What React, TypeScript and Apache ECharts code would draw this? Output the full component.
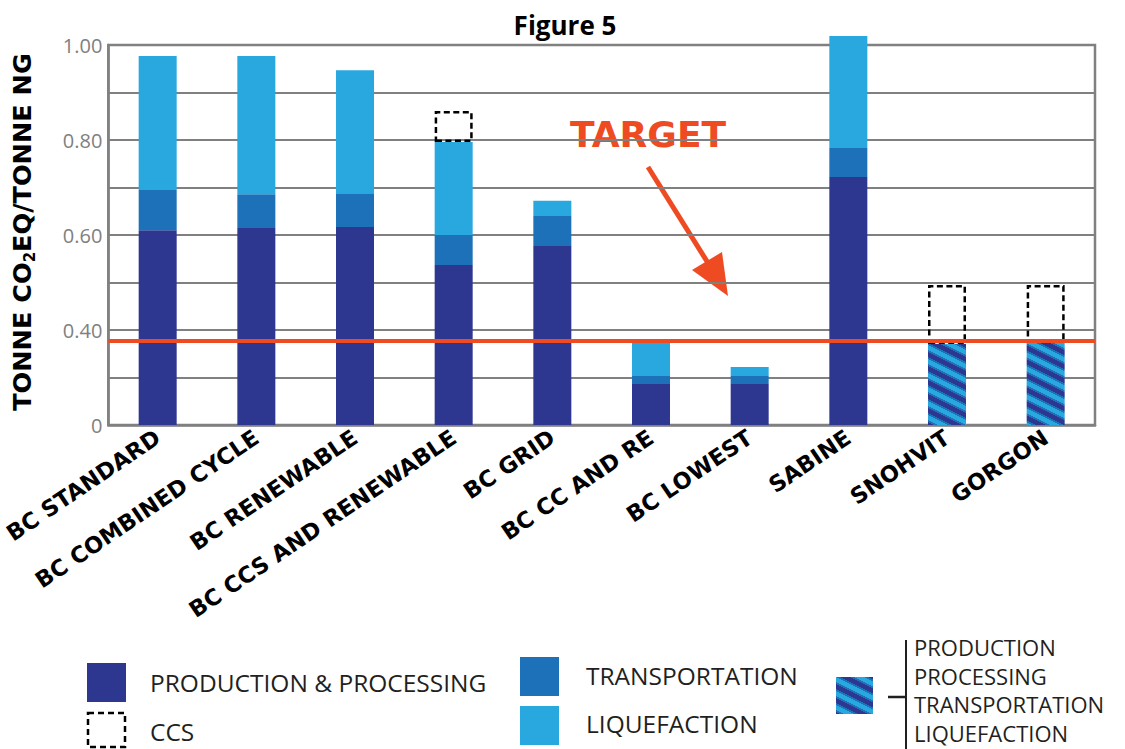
import React, { useEffect, useRef } from 'react';
import * as echarts from 'echarts';

const categories = [
  'BC STANDARD',
  'BC COMBINED CYCLE',
  'BC RENEWABLE',
  'BC CCS AND RENEWABLE',
  'BC GRID',
  'BC CC AND RE',
  'BC LOWEST',
  'SABINE',
  'SNOHVIT',
  'GORGON',
];
// tonne CO2eq / tonne NG
const production = [0.61, 0.615, 0.617, 0.537, 0.577, 0.173, 0.173, 0.722, 0, 0];
const transportation = [0.085, 0.071, 0.071, 0.063, 0.063, 0.033, 0.033, 0.061, 0, 0];
const liquefaction = [0.282, 0.291, 0.259, 0.196, 0.032, 0.139, 0.038, 0.236, 0, 0];
const combined = [0, 0, 0, 0, 0, 0, 0, 0, 0.341, 0.345];
const ccs = [0, 0, 0, 0.065, 0, 0, 0, 0, 0.154, 0.15];
const targetValue = 0.354;
// gridline values (the axis of the original is piecewise: 0.2 steps below 0.4, 0.1 steps above)
const gridValues = [0, 0.2, 0.4, 0.5, 0.6, 0.7, 0.8, 0.9, 1.0];
const tickLabels = ['0', '', '0.40', '', '0.60', '', '0.80', '', '1.00'];
const combinedLegendLines = ['PRODUCTION', 'PROCESSING', 'TRANSPORTATION', 'LIQUEFACTION'];

const NAVY = '#2E3790';
const MID = '#1D71B8';
const LIGHT = '#29A8E0';
const RED = '#EE4B23';

function toAxis(v: number): number {
  const g = gridValues;
  for (let i = 0; i < g.length - 1; i++) {
    if (v <= g[i + 1]) return i + (v - g[i]) / (g[i + 1] - g[i]);
  }
  const n = g.length - 1;
  return n + (v - g[n]) / (g[n] - g[n - 1]);
}

function makeHatch(): HTMLCanvasElement {
  const W = 28;
  const H = 14;
  const c = document.createElement('canvas');
  c.width = W;
  c.height = H;
  const ctx = c.getContext('2d')!;
  const img = ctx.createImageData(W, H);
  const cols = [
    [0x2e, 0x37, 0x90],
    [0x1d, 0x71, 0xb8],
    [0x29, 0xa8, 0xe0],
    [0x1d, 0x71, 0xb8],
  ];
  for (let y = 0; y < H; y++) {
    for (let x = 0; x < W; x++) {
      const t = ((((y - 0.5 * x) % H) + H) % H) / H;
      const ci = t < 0.34 ? 0 : t < 0.5 ? 1 : t < 0.84 ? 2 : 3;
      const k = (y * W + x) * 4;
      img.data[k] = cols[ci][0];
      img.data[k + 1] = cols[ci][1];
      img.data[k + 2] = cols[ci][2];
      img.data[k + 3] = 255;
    }
  }
  ctx.putImageData(img, 0, 0);
  return c;
}

export default function App() {
  const ref = useRef<HTMLDivElement>(null);

  useEffect(() => {
    if (!ref.current) return;
    const chart = echarts.init(ref.current, undefined, { renderer: 'svg' });
    const hatch = makeHatch();

    const seriesVals = [production, transportation, liquefaction, combined, ccs];
    const display: (number | string)[][] = seriesVals.map(() => []);
    for (let i = 0; i < categories.length; i++) {
      let cum = 0;
      seriesVals.forEach((arr, s) => {
        const v = arr[i];
        const h = toAxis(cum + v) - toAxis(cum);
        cum += v;
        display[s].push(v > 0 ? h : '-');
      });
    }

    const legendFont = '24.5px "Open Sans"';
    const legendColor = '#231F20';

    const option: any = {
      animation: false,
      grid: {
        left: 105,
        right: 30,
        top: 45,
        bottom: 324,
        show: true,
        borderColor: '#808080',
        borderWidth: 2.5,
        containLabel: false,
      },
      xAxis: {
        type: 'category',
        data: categories,
        axisTick: { show: false },
        axisLine: { show: true, lineStyle: { color: '#808080', width: 2.5 } },
        axisLabel: {
          interval: 0,
          rotate: 34,
          margin: 10,
          color: '#000',
          fontFamily: 'DejaVu Sans',
          fontWeight: 'bold',
          fontSize: 22.5,
        },
      },
      yAxis: {
        type: 'value',
        min: 0,
        max: 8,
        interval: 1,
        axisLine: { show: true, lineStyle: { color: '#808080', width: 2.5 } },
        axisTick: { show: false },
        splitLine: { show: true, lineStyle: { color: '#808080', width: 2 } },
        axisLabel: {
          formatter: (v: number) => tickLabels[Math.round(v)] ?? '',
          color: '#808080',
          fontFamily: 'Open Sans',
          fontSize: 20,
          margin: 6,
        },
      },
      series: [
        {
          name: 'PRODUCTION & PROCESSING',
          type: 'bar',
          stack: 'all',
          barWidth: 38,
          clip: false,
          data: display[0],
          itemStyle: { color: NAVY },
        },
        {
          name: 'TRANSPORTATION',
          type: 'bar',
          stack: 'all',
          barWidth: 38,
          clip: false,
          data: display[1],
          itemStyle: { color: MID },
        },
        {
          name: 'LIQUEFACTION',
          type: 'bar',
          stack: 'all',
          barWidth: 38,
          clip: false,
          data: display[2],
          itemStyle: { color: LIGHT },
        },
        {
          name: 'COMBINED',
          type: 'bar',
          stack: 'all',
          barWidth: 38,
          clip: false,
          data: display[3],
          itemStyle: { color: { image: hatch, repeat: 'repeat' } },
        },
        {
          name: 'CCS',
          type: 'bar',
          stack: 'all',
          barWidth: 38,
          clip: false,
          z: 3,
          data: display[4],
          itemStyle: {
            color: 'rgba(0,0,0,0)',
            borderColor: '#000',
            borderWidth: 2.5,
            borderType: [6, 3.5],
          },
          markLine: {
            silent: true,
            symbol: 'none',
            label: { show: false },
            lineStyle: { color: RED, width: 4, type: 'solid' },
            data: [{ yAxis: toAxis(targetValue) }],
          },
        },
      ],
      graphic: [
        {
          type: 'text',
          x: 565,
          y: 25,
          style: {
            text: 'Figure 5',
            font: 'bold 26px "Open Sans"',
            fill: '#000',
            align: 'center',
            verticalAlign: 'middle',
          },
        },
        {
          type: 'text',
          x: 22,
          y: 232,
          rotation: Math.PI / 2,
          style: {
            text: 'TONNE CO{sub|2}EQ/TONNE NG',
            font: 'bold 25.5px "DejaVu Sans"',
            fill: '#000',
            align: 'center',
            verticalAlign: 'middle',
            rich: {
              sub: {
                font: 'bold 15px "DejaVu Sans"',
                fill: '#000',
                padding: [16, 0, 0, 0],
              },
            },
          },
        },
        {
          type: 'text',
          x: 570,
          y: 134,
          style: {
            text: 'TARGET',
            font: 'bold 36px "DejaVu Sans"',
            fill: RED,
            align: 'left',
            verticalAlign: 'middle',
          },
        },
        {
          type: 'line',
          shape: { x1: 648, y1: 167, x2: 708, y2: 263 },
          style: { stroke: RED, lineWidth: 5 },
        },
        {
          type: 'polygon',
          shape: { points: [[728, 296], [692, 270], [722, 252]] },
          style: { fill: RED },
        },
        // legend
        { type: 'rect', shape: { x: 87, y: 663, width: 39, height: 39 }, style: { fill: NAVY } },
        {
          type: 'text',
          x: 150,
          y: 682,
          style: { text: 'PRODUCTION & PROCESSING', font: legendFont, fill: legendColor, verticalAlign: 'middle' },
        },
        {
          type: 'rect',
          shape: { x: 88, y: 713, width: 37, height: 34 },
          style: { fill: 'none', stroke: '#000', lineWidth: 2.5, lineDash: [6, 4] },
        },
        {
          type: 'text',
          x: 150,
          y: 731,
          style: { text: 'CCS', font: legendFont, fill: legendColor, verticalAlign: 'middle' },
        },
        { type: 'rect', shape: { x: 520, y: 657, width: 39, height: 39 }, style: { fill: MID } },
        {
          type: 'text',
          x: 586,
          y: 675,
          style: { text: 'TRANSPORTATION', font: legendFont, fill: legendColor, verticalAlign: 'middle' },
        },
        { type: 'rect', shape: { x: 520, y: 706, width: 39, height: 39 }, style: { fill: LIGHT } },
        {
          type: 'text',
          x: 586,
          y: 723,
          style: { text: 'LIQUEFACTION', font: legendFont, fill: legendColor, verticalAlign: 'middle' },
        },
        {
          type: 'rect',
          shape: { x: 836, y: 677, width: 37, height: 37 },
          style: { fill: { image: hatch, repeat: 'repeat' } },
        },
        {
          type: 'line',
          shape: { x1: 888, y1: 697, x2: 906, y2: 697 },
          style: { stroke: legendColor, lineWidth: 2.5 },
        },
        {
          type: 'line',
          shape: { x1: 906, y1: 640, x2: 906, y2: 749 },
          style: { stroke: legendColor, lineWidth: 2 },
        },
        {
          type: 'text',
          x: 914,
          y: 633,
          style: {
            text: combinedLegendLines.join('\n'),
            font: '22px "Open Sans"',
            lineHeight: 28.5,
            fill: legendColor,
            verticalAlign: 'top',
          },
        },
      ],
    };

    chart.setOption(option);
    return () => chart.dispose();
  }, []);

  return (
    <div
      ref={ref}
      style={{ position: 'fixed', left: 0, top: 0, width: 1125, height: 749, background: '#fff' }}
    />
  );
}
